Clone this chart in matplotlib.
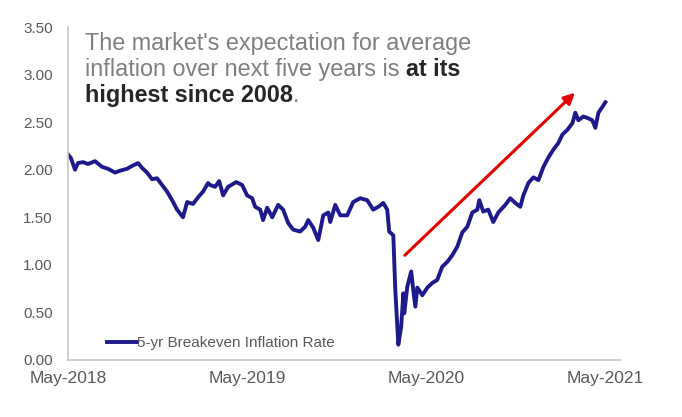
import matplotlib.pyplot as plt

# years since May-2018, 5-yr breakeven inflation rate (%)
t = [0.000, 0.017, 0.039, 0.056, 0.084, 0.112, 0.151, 0.190, 0.223, 0.263,
     0.291, 0.330, 0.358, 0.391, 0.413, 0.441, 0.469, 0.497, 0.525, 0.553,
     0.581, 0.609, 0.642, 0.665, 0.698, 0.726, 0.754, 0.782, 0.793, 0.821,
     0.844, 0.866, 0.894, 0.939, 0.972, 1.000, 1.028, 1.045, 1.073, 1.089,
     1.112, 1.140, 1.173, 1.201, 1.229, 1.257, 1.296, 1.324, 1.341, 1.369,
     1.397, 1.425, 1.453, 1.464, 1.492, 1.520, 1.559, 1.592, 1.631, 1.670,
     1.704, 1.732, 1.760, 1.782, 1.793, 1.816, 1.827, 1.844, 1.860, 1.872,
     1.877, 1.894, 1.916, 1.927, 1.939, 1.950, 1.978, 2.006, 2.034, 2.061,
     2.089, 2.117, 2.145, 2.173, 2.201, 2.229, 2.257, 2.285, 2.296, 2.318,
     2.346, 2.374, 2.402, 2.441, 2.469, 2.497, 2.525, 2.542, 2.570, 2.598,
     2.626, 2.654, 2.682, 2.709, 2.737, 2.760, 2.788, 2.816, 2.832, 2.849,
     2.877, 2.905, 2.927, 2.944, 2.961, 2.983, 3.000]
rate = [2.16, 2.12, 2.00, 2.07, 2.08, 2.06, 2.09, 2.03, 2.01, 1.97,
        1.99, 2.01, 2.04, 2.07, 2.02, 1.97, 1.90, 1.91, 1.84, 1.77,
        1.68, 1.58, 1.50, 1.66, 1.64, 1.71, 1.77, 1.86, 1.84, 1.82,
        1.88, 1.73, 1.82, 1.87, 1.84, 1.73, 1.70, 1.61, 1.58, 1.47,
        1.60, 1.50, 1.63, 1.58, 1.44, 1.37, 1.35, 1.40, 1.47, 1.39,
        1.26, 1.52, 1.55, 1.45, 1.63, 1.52, 1.52, 1.66, 1.70, 1.68,
        1.58, 1.61, 1.65, 1.58, 1.35, 1.31, 0.74, 0.16, 0.35, 0.70,
        0.49, 0.77, 0.93, 0.74, 0.56, 0.76, 0.68, 0.76, 0.81, 0.84,
        0.98, 1.03, 1.10, 1.19, 1.34, 1.40, 1.55, 1.58, 1.68, 1.56,
        1.58, 1.45, 1.55, 1.63, 1.70, 1.65, 1.61, 1.73, 1.86, 1.92,
        1.89, 2.03, 2.13, 2.21, 2.28, 2.37, 2.42, 2.49, 2.60, 2.52,
        2.56, 2.54, 2.52, 2.44, 2.60, 2.66, 2.71]
tick_pos = [0, 1, 2, 3]
tick_labels = ['May-2018', 'May-2019', 'May-2020', 'May-2021']
arrow_from = (1.88, 1.10)
arrow_to = (2.83, 2.81)

plt.rcParams['font.family'] = ['Liberation Sans', 'DejaVu Sans']
fig = plt.figure(figsize=(6.82, 4.17), dpi=100)
ax = fig.add_axes([0.0997, 0.137, 0.809, 0.798])

ax.plot(t, rate, color='#1f1a8c', lw=2.8, label='5-yr Breakeven Inflation Rate')
ax.annotate('', xy=arrow_to, xytext=arrow_from,
            arrowprops=dict(arrowstyle='-|>', color='#e30000', lw=2.2,
                            mutation_scale=16, shrinkA=0, shrinkB=0))

ax.set_xlim(0, 3.08)
ax.set_ylim(0, 3.5)
ax.set_yticks([0, 0.5, 1, 1.5, 2, 2.5, 3, 3.5])
ax.set_yticklabels([f'{v:.2f}' for v in ax.get_yticks()])
ax.set_xticks(tick_pos)
ax.set_xticklabels(tick_labels)
ax.tick_params(axis='y', length=0, pad=11, labelsize=11, labelcolor='#595959')
ax.tick_params(axis='x', length=0, pad=8, labelsize=12.5, labelcolor='#595959')
for s in ['top', 'right']:
    ax.spines[s].set_visible(False)
for s in ['left', 'bottom']:
    ax.spines[s].set_color('#c8c8c8')
    ax.spines[s].set_linewidth(1.2)

leg = ax.legend(loc='lower left', bbox_to_anchor=(0.045, -0.012), frameon=False,
                handlelength=2.0, handletextpad=0.0, fontsize=11)
for txt in leg.get_texts():
    txt.set_color('#595959')

# headline with mixed styles
gray = '#7f7f7f'
dark = '#262626'
fs = 16.8
t1 = ax.text(0.03, 0.931, "The market's expectation for average", transform=ax.transAxes,
             fontsize=fs, color=gray, va='baseline')
t2 = ax.text(0.03, 0.853, "inflation over next five years is ", transform=ax.transAxes,
             fontsize=fs, color=gray, va='baseline')
ax.annotate('at its', xy=(1, 0), xycoords=t2, fontsize=fs, color=dark,
            fontweight='bold', va='bottom')
t3 = ax.text(0.03, 0.775, 'highest since 2008', transform=ax.transAxes,
             fontsize=fs, color=dark, fontweight='bold', va='baseline')
ax.annotate('.', xy=(1, 0), xycoords=t3, fontsize=fs, color=gray, va='bottom')

fig.savefig('out.png', dpi=100)
